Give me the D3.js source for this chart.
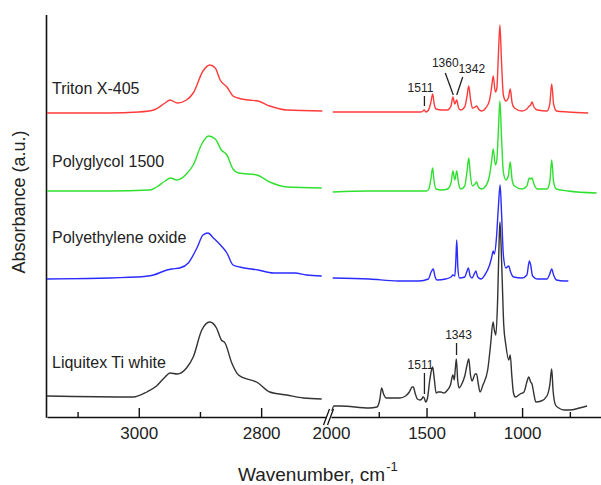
<!DOCTYPE html>
<html>
<head>
<meta charset="utf-8">
<script src="https://cdn.jsdelivr.net/npm/d3@7"></script>
<style>
  body { margin: 0; background: #fff; }
  svg { display: block; }
</style>
</head>
<body>
<div id="chart"></div>
<script>
(function () {

  'use strict';

  const FONT_FAMILY = '"Liberation Sans", Arial, Helvetica, sans-serif';
  const WIDTH = 601;
  const HEIGHT = 485;

  // Series names, bottom to top, and their vertical offsets (a.u.).
  const names = ['Liquitex Ti white', 'Polyethylene oxide', 'Polyglycol 1500', 'Triton X-405'];
  const colors = ['#333333', '#2b2bff', '#2fe02f', '#ff3b3b'];
  const offsets = [0.21, 1.38, 2.26, 3.04];

  // High wavenumber region, [wavenumber, absorbance above offset].
  const liquitexHigh = [[3150, 0], [3009, -0.01], [2987, 0.04], [2971, 0.10], [2957, 0.19], [2949, 0.23], [2937, 0.22], [2922, 0.28], [2911, 0.39], [2897, 0.66], [2884, 0.74], [2873, 0.68], [2865, 0.56], [2859, 0.53], [2848, 0.33], [2837, 0.21], [2805, 0.13], [2786, 0.04], [2758, 0.01], [2731, -0.02], [2701, -0.03]];
  const peoHigh = [[3150, 0], [3003, 0.02], [2976, 0.04], [2954, 0.09], [2946, 0.10], [2933, 0.11], [2919, 0.16], [2905, 0.31], [2895, 0.44], [2887, 0.46], [2878, 0.41], [2865, 0.33], [2856, 0.26], [2846, 0.14], [2835, 0.12], [2805, 0.09], [2780, 0.06], [2745, 0.06], [2726, 0.04], [2701, 0.03]];
  const polyglycolHigh = [[3150, 0], [3050, 0], [2982, 0.01], [2971, 0.04], [2957, 0.10], [2948, 0.13], [2938, 0.11], [2922, 0.17], [2911, 0.26], [2897, 0.47], [2886, 0.55], [2875, 0.52], [2865, 0.41], [2856, 0.36], [2846, 0.22], [2837, 0.18], [2807, 0.16], [2786, 0.09], [2758, 0.04], [2701, 0.03]];
  const tritonHigh = [[3150, 0], [3050, 0], [3000, 0.01], [2976, 0.03], [2957, 0.10], [2949, 0.13], [2937, 0.10], [2922, 0.13], [2911, 0.20], [2895, 0.42], [2884, 0.48], [2875, 0.45], [2867, 0.33], [2856, 0.26], [2846, 0.17], [2838, 0.15], [2820, 0.13], [2805, 0.12], [2786, 0.07], [2758, 0.03], [2700, 0.02]];

  // Fingerprint region.
  const liquitexLow = [[1995, -0.15], [1985, -0.10], [1950, -0.10], [1800, -0.12], [1760, -0.11], [1745, -0.04], [1735, 0.08], [1725, 0.02], [1710, -0.02], [1680, -0.02], [1640, -0.02], [1610, 0.00], [1590, 0.04], [1575, 0.09], [1569, 0.09], [1560, 0.03], [1548, -0.03], [1535, -0.04], [1525, -0.03], [1518, -0.01], [1512, -0.02], [1505, -0.06], [1495, -0.02], [1483, 0.16], [1474, 0.26], [1468, 0.29], [1460, 0.18], [1450, 0.03], [1440, 0.04], [1425, 0.04], [1410, 0.03], [1390, 0.06], [1375, 0.11], [1362, 0.21], [1355, 0.16], [1350, 0.26], [1344, 0.37], [1337, 0.16], [1330, 0.08], [1318, 0.11], [1300, 0.20], [1288, 0.31], [1279, 0.37], [1270, 0.21], [1262, 0.15], [1245, 0.22], [1238, 0.22], [1230, 0.13], [1220, 0.04], [1205, 0.11], [1180, 0.26], [1165, 0.51], [1152, 0.74], [1145, 0.66], [1137, 0.61], [1128, 0.96], [1120, 1.56], [1116, 1.74], [1112, 1.61], [1104, 1.16], [1096, 0.71], [1085, 0.51], [1070, 0.36], [1062, 0.41], [1054, 0.21], [1045, 0.03], [1035, -0.01], [1010, 0.02], [990, 0.04], [975, 0.14], [965, 0.19], [955, 0.14], [948, 0.12], [940, 0.04], [928, -0.06], [900, -0.05], [870, 0.00], [855, 0.11], [845, 0.27], [838, 0.06], [825, -0.09], [808, -0.12], [780, -0.14], [750, -0.14], [700, -0.12], [660, -0.10]];
  const peoLow = [[1991, 0.01], [1800, 0.00], [1650, -0.02], [1540, -0.02], [1490, 0.00], [1478, 0.06], [1465, 0.10], [1455, 0.02], [1445, -0.01], [1400, 0.00], [1372, 0.02], [1362, 0.04], [1352, 0.03], [1347, 0.17], [1342, 0.39], [1336, 0.11], [1328, 0.01], [1300, 0.02], [1290, 0.07], [1281, 0.11], [1272, 0.03], [1262, 0.01], [1248, 0.06], [1242, 0.08], [1232, 0.02], [1215, 0.00], [1195, 0.04], [1170, 0.14], [1160, 0.21], [1151, 0.28], [1145, 0.25], [1135, 0.39], [1125, 0.69], [1115, 0.94], [1107, 0.64], [1098, 0.24], [1085, 0.11], [1070, 0.13], [1060, 0.07], [1045, 0.02], [1000, 0.01], [975, 0.04], [962, 0.18], [955, 0.14], [945, 0.03], [920, 0.00], [870, 0.00], [855, 0.05], [845, 0.10], [835, 0.04], [820, -0.01], [780, -0.02], [758, -0.02]];
  const polyglycolLow = [[1991, -0.01], [1800, 0.00], [1700, 0.00], [1600, 0.00], [1500, 0.00], [1488, 0.02], [1478, 0.11], [1468, 0.23], [1460, 0.09], [1450, 0.02], [1420, 0.01], [1390, 0.02], [1372, 0.08], [1362, 0.20], [1352, 0.11], [1342, 0.20], [1332, 0.07], [1320, 0.02], [1300, 0.05], [1288, 0.20], [1279, 0.33], [1270, 0.15], [1260, 0.05], [1246, 0.07], [1238, 0.09], [1228, 0.04], [1212, 0.02], [1190, 0.05], [1170, 0.16], [1160, 0.29], [1151, 0.42], [1140, 0.26], [1132, 0.31], [1124, 0.61], [1116, 0.90], [1108, 0.56], [1098, 0.19], [1085, 0.11], [1072, 0.15], [1062, 0.29], [1052, 0.11], [1040, 0.05], [1000, 0.02], [975, 0.05], [962, 0.13], [955, 0.12], [948, 0.13], [938, 0.07], [920, 0.02], [870, 0.02], [855, 0.09], [845, 0.31], [835, 0.09], [820, 0.02], [760, 0.00], [610, -0.02]];
  const tritonLow = [[1991, 0.01], [1800, 0.01], [1600, 0.01], [1530, 0.01], [1518, 0.02], [1512, 0.03], [1504, 0.01], [1490, 0.03], [1478, 0.10], [1468, 0.19], [1460, 0.09], [1450, 0.04], [1420, 0.03], [1390, 0.03], [1372, 0.07], [1362, 0.16], [1352, 0.09], [1342, 0.13], [1332, 0.05], [1322, 0.03], [1300, 0.06], [1288, 0.17], [1279, 0.27], [1270, 0.14], [1260, 0.05], [1246, 0.06], [1238, 0.07], [1228, 0.04], [1212, 0.02], [1190, 0.05], [1170, 0.13], [1160, 0.25], [1151, 0.37], [1140, 0.21], [1132, 0.25], [1124, 0.58], [1116, 0.88], [1108, 0.53], [1098, 0.18], [1085, 0.12], [1072, 0.15], [1062, 0.24], [1052, 0.10], [1040, 0.05], [1000, 0.02], [975, 0.04], [962, 0.07], [955, 0.08], [948, 0.11], [938, 0.06], [920, 0.03], [870, 0.02], [855, 0.09], [845, 0.29], [835, 0.09], [820, 0.02], [760, 0.01], [654, 0.00]];

  const highData = [liquitexHigh, peoHigh, polyglycolHigh, tritonHigh];
  const lowData = [liquitexLow, peoLow, polyglycolLow, tritonLow];

  // Tick values for the broken axis.
  const highMajorTicks = [3000, 2800];
  const highMinorTicks = [3100, 2900];
  const lowMajorTicks = [1500, 1000];
  const lowMinorTicks = [1750, 1250, 750];
  const lowLabelTicks = [2000, 1500, 1000];

  // Peak annotations: series index, wavenumber of the mark, label.
  const annotations = [
    {series: 3, wn: 1511, label: '1511'},
    {series: 3, wn: 1360, label: '1360'},
    {series: 3, wn: 1342, label: '1342'},
    {series: 0, wn: 1511, label: '1511'},
    {series: 0, wn: 1343, label: '1343'}
  ];

  let margin = {top: 15, left: 47, bottom: 417};
  let labelLift = [28, 36, 24, 19];

  let svg = d3.select('#chart')
    .append('svg')
    .attr('width', WIDTH)
    .attr('height', HEIGHT)
    .style('font-family', FONT_FAMILY);

  // Scales: two x pieces for the broken axis, one shared y.
  let xHigh = d3.scaleLinear().domain([3150, 2694]).range([margin.left, 326]);
  let xLow = d3.scaleLinear().domain([2000, 587]).range([331, WIDTH]);
  let y = d3.scaleLinear().domain([0, 4.02]).range([margin.bottom, margin.top]);

  // Axes.
  let addAxis = function (scale, major, minor, labels) {
    let g = svg.append('g')
      .attr('transform', 'translate(0,' + margin.bottom + ')');
    g.call(d3.axisBottom(scale).tickValues(minor).tickSize(-5).tickSizeOuter(0).tickFormat(''));
    g.selectAll('.tick line').attr('stroke', '#111').attr('stroke-width', 1.4);
    g.select('.domain').attr('stroke', '#111').attr('stroke-width', 1.6);
    let g2 = svg.append('g')
      .attr('transform', 'translate(0,' + margin.bottom + ')');
    g2.call(d3.axisBottom(scale).tickValues(major).tickSize(-9).tickSizeOuter(0).tickFormat(''));
    g2.select('.domain').remove();
    g2.selectAll('.tick line').attr('stroke', '#111').attr('stroke-width', 1.4);
    let g3 = svg.append('g')
      .attr('transform', 'translate(0,' + margin.bottom + ')');
    g3.call(d3.axisBottom(scale).tickValues(labels).tickSize(0).tickPadding(10).tickFormat(d3.format('d')));
    g3.select('.domain').remove();
    g3.selectAll('text')
      .style('font-family', FONT_FAMILY)
      .style('font-size', '17px')
      .attr('fill', '#222');
  };
  addAxis(xHigh, highMajorTicks, highMinorTicks, highMajorTicks);
  addAxis(xLow, lowMajorTicks, lowMinorTicks, lowLabelTicks);

  // Left axis line.
  svg.append('line')
    .attr('x1', margin.left - 0.5)
    .attr('x2', margin.left - 0.5)
    .attr('y1', margin.top)
    .attr('y2', margin.bottom + 0.8)
    .attr('stroke', '#111')
    .attr('stroke-width', 1.6);

  // Axis break marks.
  let breakX = (xHigh.range()[1] + xLow.range()[0]) / 2;
  [-2, 2].forEach(function (dx) {
    svg.append('line')
      .attr('x1', breakX + dx - 3)
      .attr('x2', breakX + dx + 3)
      .attr('y1', margin.bottom + 8)
      .attr('y2', margin.bottom - 8)
      .attr('stroke', '#111')
      .attr('stroke-width', 1.3);
  });

  // Spectra.
  names.forEach(function (name, i) {
    let lineHigh = d3.line()
      .curve(d3.curveMonotoneX)
      .x(function (d) { return xHigh(d[0]); })
      .y(function (d) { return y(d[1] + offsets[i]); });
    let lineLow = d3.line()
      .curve(d3.curveMonotoneX)
      .x(function (d) { return xLow(d[0]); })
      .y(function (d) { return y(d[1] + offsets[i]); });

    svg.append('path')
      .datum(highData[i])
      .attr('d', lineHigh)
      .attr('fill', 'none')
      .attr('stroke', colors[i])
      .attr('stroke-width', 1.4);
    svg.append('path')
      .datum(lowData[i])
      .attr('d', lineLow)
      .attr('fill', 'none')
      .attr('stroke', colors[i])
      .attr('stroke-width', 1.4);

    svg.append('text')
      .attr('x', 52)
      .attr('y', y(offsets[i]) - labelLift[i])
      .style('font-size', '16px')
      .attr('fill', '#222')
      .text(name);
  });

  // Peak annotations.
  let valueAt = function (series, wn) {
    let pts = lowData[series];
    let best = pts[0];
    pts.forEach(function (p) {
      if (Math.abs(p[0] - wn) < Math.abs(best[0] - wn)) {
        best = p;
      }
    });
    return y(best[1] + offsets[series]);
  };

  annotations.forEach(function (a) {
    let px = xLow(a.wn);
    let py = valueAt(a.series, a.wn);
    let g = svg.append('g').attr('fill', '#222').style('font-size', '12px');
    if (a.label === '1360') {
      svg.append('line')
        .attr('x1', px - 8).attr('y1', py - 24)
        .attr('x2', px).attr('y2', py - 2)
        .attr('stroke', '#222').attr('stroke-width', 1.3);
      g.append('text').attr('x', px - 8).attr('y', py - 30)
        .attr('text-anchor', 'middle').text(a.label);
    }
    else if (a.label === '1342' && a.series === 3) {
      svg.append('line')
        .attr('x1', px + 6).attr('y1', py - 23)
        .attr('x2', px).attr('y2', py - 5)
        .attr('stroke', '#222').attr('stroke-width', 1.3);
      g.append('text').attr('x', px + 15).attr('y', py - 27)
        .attr('text-anchor', 'middle').text(a.label);
    }
    else {
      let top = a.series === 3 ? py - 14 : py - 25;
      if (a.label === '1343') {
        top = py - 16;
      }
      svg.append('line')
        .attr('x1', px).attr('y1', top)
        .attr('x2', px).attr('y2', py - 4)
        .attr('stroke', '#222').attr('stroke-width', 1.3);
      g.append('text').attr('x', a.label === '1511' ? px - 4 : px + 2).attr('y', top - 4)
        .attr('text-anchor', 'middle').text(a.label);
    }
  });

  // Axis titles.
  svg.append('text')
    .attr('transform', 'translate(25,202) rotate(-90)')
    .attr('text-anchor', 'middle')
    .style('font-size', '18px')
    .attr('fill', '#222')
    .text('Absorbance (a.u.)');

  let xTitle = svg.append('text')
    .attr('x', 238)
    .attr('y', 481)
    .style('font-size', '19px')
    .attr('fill', '#222');
  xTitle.append('tspan').text('Wavenumber, cm');
  xTitle.append('tspan')
    .attr('dy', -10)
    .attr('dx', 1)
    .style('font-size', '13px')
    .text('-1');

}());
</script>
</body>
</html>
